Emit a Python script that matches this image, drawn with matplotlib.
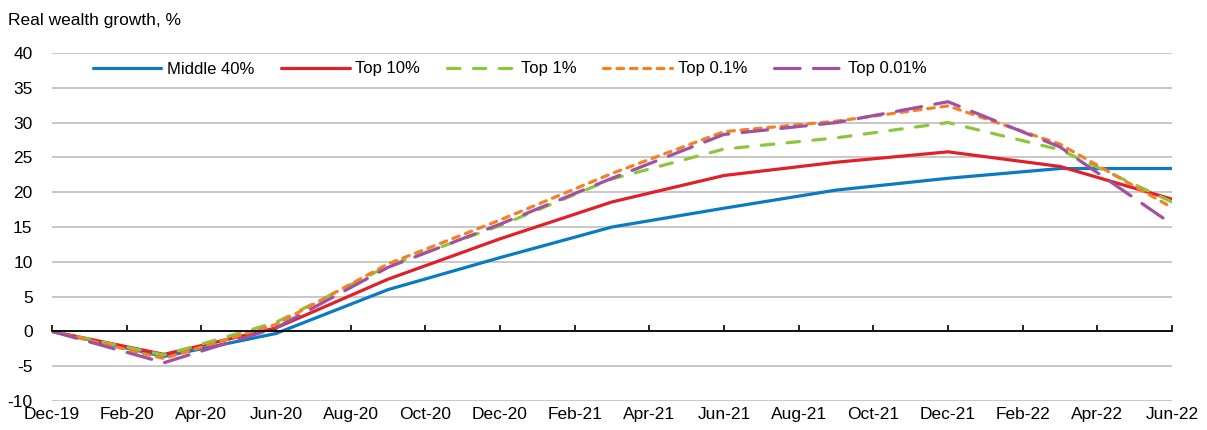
import matplotlib
matplotlib.use("Agg")
import matplotlib.pyplot as plt

plt.rcParams['font.family'] = ['Liberation Sans', 'DejaVu Sans']

# months since Dec-19 (quarterly observations)
months = [0, 3, 6, 9, 12, 15, 18, 21, 24, 27, 30]
middle40 = [0, -3.6, -0.3, 6.0, 10.6, 15.0, 17.7, 20.3, 22.0, 23.4, 23.4]
top10 = [0, -3.3, 0.5, 7.5, 13.3, 18.6, 22.4, 24.3, 25.8, 23.7, 19.0]
top1 = [0, -3.4, 1.3, 9.4, 15.2, 21.9, 26.2, 27.8, 30.0, 26.1, 18.6]
top01 = [0, -3.9, 1.0, 9.7, 16.0, 22.7, 28.7, 30.2, 32.4, 26.9, 17.8]
top001 = [0, -4.5, 0.5, 9.2, 15.4, 22.0, 28.3, 30.0, 33.0, 26.5, 15.4]

tick_months = list(range(0, 31, 2))
tick_labels = ['Dec-19', 'Feb-20', 'Apr-20', 'Jun-20', 'Aug-20', 'Oct-20', 'Dec-20',
               'Feb-21', 'Apr-21', 'Jun-21', 'Aug-21', 'Oct-21', 'Dec-21', 'Feb-22',
               'Apr-22', 'Jun-22']
y_ticks = [-10, -5, 0, 5, 10, 15, 20, 25, 30, 35, 40]

fig = plt.figure(figsize=(12.07, 4.30), dpi=100)
ax = fig.add_axes([52/1207, 29/430, 1120/1207, 348/430])

lw = 2.3
ax.plot(months, middle40, color='#0a7bc2', lw=lw, label='Middle 40%', solid_capstyle='round')
ax.plot(months, top10, color='#e0202a', lw=lw, label='Top 10%', solid_capstyle='round')
ax.plot(months, top1, color='#8cc63f', lw=lw, label='Top 1%', dashes=(3.9, 4.2), dash_capstyle='round')
ax.plot(months, top01, color='#f58025', lw=lw, label='Top 0.1%', dashes=(2.1, 2.1), dash_capstyle='round')
ax.plot(months, top001, color='#a0519f', lw=lw, label='Top 0.01%', dashes=(8, 4.2), dash_capstyle='round')

ax.set_xlim(0, 30)
ax.set_ylim(-10, 40)
ax.set_yticks(y_ticks)
ax.set_yticklabels([str(v) for v in y_ticks])
ax.yaxis.grid(True, color='#c8c8c8', lw=1.4)
ax.set_axisbelow(True)

for s in ['top', 'right', 'left']:
    ax.spines[s].set_visible(False)
ax.spines['bottom'].set_position(('data', 0))
ax.spines['bottom'].set_color('black')
ax.spines['bottom'].set_linewidth(1.3)
ax.spines['bottom'].set_zorder(3)
ax.set_xticks(tick_months)
ax.tick_params(axis='x', direction='in', length=4.5, width=1.2, labelbottom=False, color='black')
ax.tick_params(axis='y', length=0, pad=14, labelsize=12.5)

sec = ax.secondary_xaxis('bottom')
sec.set_xticks(tick_months)
sec.set_xticklabels(tick_labels)
sec.tick_params(length=0, pad=4, labelsize=12.5)
sec.spines['bottom'].set_visible(False)

fig.text(8/1207, 1 - 13/430, 'Real wealth growth, %', fontsize=12.5, va='top', ha='left')

leg = fig.legend(loc='center left', bbox_to_anchor=(93/1207, 1 - 69/430), ncol=5, frameon=False,
                 fontsize=12, handlelength=4.1, handletextpad=0.35, columnspacing=1.6,
                 borderpad=0, borderaxespad=0)

fig.savefig('out.png', dpi=100)
